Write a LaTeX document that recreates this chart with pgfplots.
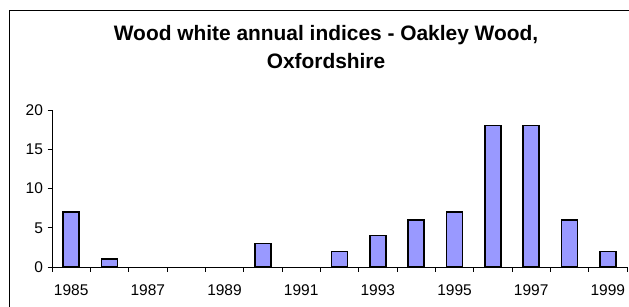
\documentclass[border=0pt]{standalone}
\usepackage{fontspec}
\setmainfont{Liberation Sans}
\usepackage{pgfplots}
\pgfplotsset{compat=1.18}
\definecolor{barfill}{HTML}{9999FF}
\begin{document}
\begin{tikzpicture}
\begin{axis}[
  at={(52bp,40bp)}, anchor=south west,
  scale only axis, width=575bp, height=157bp,
  xmin=-0.5, xmax=14.5, ymin=0, ymax=20,
  axis x line=bottom, axis y line=left,
  axis line style={-, black, line width=0.8bp},
  ytick={0,5,10,15,20},
  xtick={-0.5,0.5,...,14.5},
  xticklabels={},
  extra x ticks={0,2,4,6,8,10,12,14},
  extra x tick labels={1985,1987,1989,1991,1993,1995,1997,1999},
  extra x tick style={tick style={draw=none}},
  tick align=outside,
  major tick length=4.5bp,
  tick style={black, line width=0.8bp},
  ticklabel style={font=\fontsize{15.5bp}{18bp}\selectfont},
  /pgf/number format/assume math mode=true,
  xticklabel style={yshift=-10bp},
  yticklabel style={xshift=-1bp},
  clip=false,
]
\addplot[ybar, bar width=16bp, bar shift=0pt, fill=barfill, draw=black, line width=1.5bp]
  coordinates {(0,7) (1,1) (5,3) (7,2) (8,4) (9,6) (10,7) (11,18) (12,18) (13,6) (14,2)};
\end{axis}
\node[anchor=base, font=\bfseries\fontsize{20.9bp}{24bp}\selectfont] at (326bp,266.5bp) {Wood white annual indices - Oakley Wood,};
\node[anchor=base, font=\bfseries\fontsize{20.9bp}{24bp}\selectfont] at (326bp,238.5bp) {Oxfordshire};
\draw[line width=1bp, black] (9.5bp,-10bp) -- (9.5bp,296.5bp) -- (640bp,296.5bp);
\pgfresetboundingbox
\path[use as bounding box] (0,0) rectangle (629bp,307bp);
\end{tikzpicture}
\end{document}
